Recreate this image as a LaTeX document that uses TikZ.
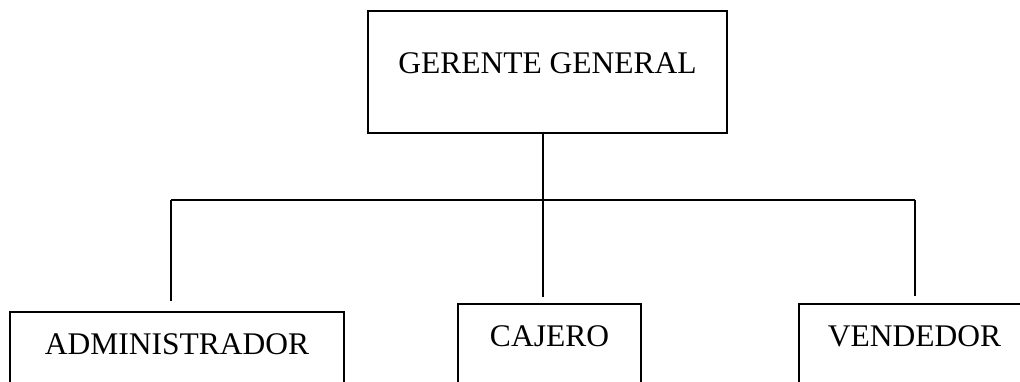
\documentclass[tikz,border=0pt]{standalone}
\usepackage{fontspec}
\setmainfont{Liberation Serif}
\usepackage{tikz}
\usetikzlibrary{positioning, calc}
\tikzset{
  cargobox/.style={rectangle, draw=black, line width=2.2pt, inner xsep=0pt, inner ysep=0pt, font=\fontsize{31.5}{36}\selectfont, anchor=north, align=center},
  linea/.style={line width=2.2pt, black}
}
\begin{document}
\begin{tikzpicture}[x=1pt, y=1pt]
  \path[use as bounding box, clip] (0,0) rectangle (1020,382);

  \node[cargobox, minimum width=359pt, text height=62pt, text depth=60pt] (gerente) at (547.5,372) {GERENTE GENERAL};

  \node[cargobox, minimum width=334pt, text height=42pt, text depth=80pt] (admin) at (177,71) {ADMINISTRADOR};
  \node[cargobox, minimum width=183pt, text height=42pt, text depth=80pt] (cajero) at (549.5,79) {CAJERO};
  \node[cargobox, minimum width=231pt, text height=42pt, text depth=80pt] (vendedor) at (914.5,79) {VENDEDOR};

  % ramas del organigrama
  \coordinate (hub) at (543,182);
  \coordinate (izq) at (171,182);
  \coordinate (der) at (915,182);
  \draw[linea, shorten >=6pt] (gerente.south -| hub) -- (cajero.north -| hub);
  \draw[linea] (izq) -- (der);
  \draw[linea, shorten >=10pt] (izq) -- (admin.north -| izq);
  \draw[linea, shorten >=7pt] (der) -- (vendedor.north -| der);
\end{tikzpicture}
\end{document}
